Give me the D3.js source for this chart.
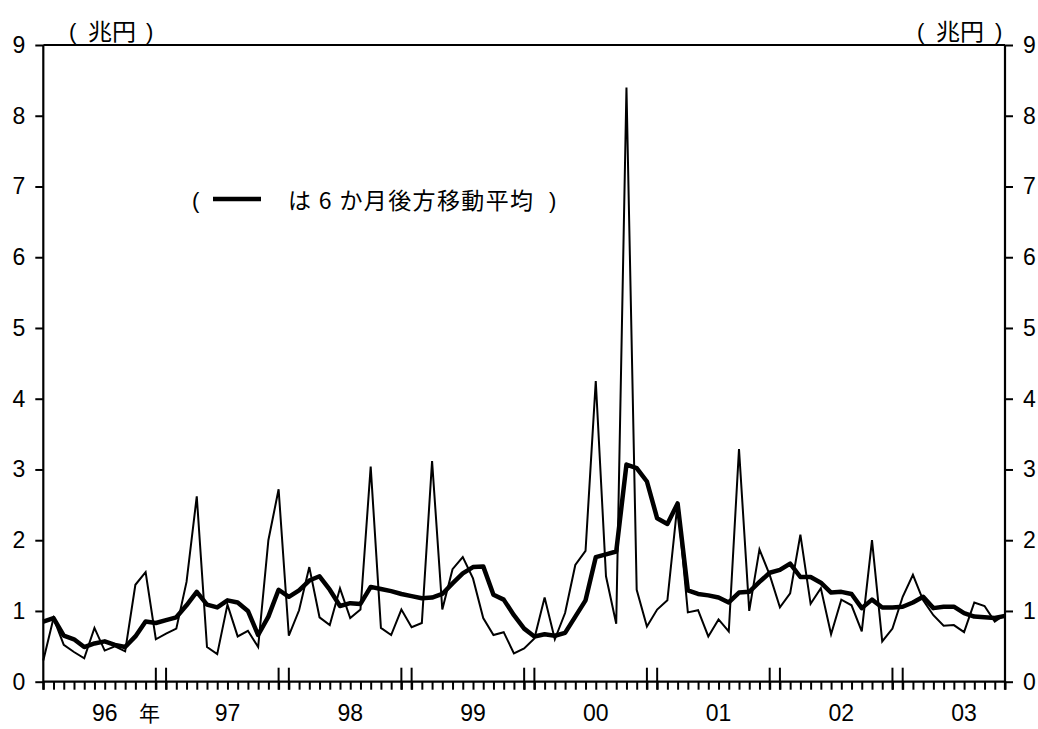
<!DOCTYPE html>
<html><head><meta charset="utf-8">
<script src="https://cdn.jsdelivr.net/npm/d3@7"></script>
<style>
html,body{margin:0;padding:0;background:#fff;}
</style></head>
<body><svg id="c" width="1038" height="729"></svg>
<script>
// monthly values, Jan 1996 – Nov 2003 (兆円)
const monthly = [0.30,0.90,0.52,0.42,0.33,0.76,0.44,0.50,0.43,1.37,1.55,0.60,
0.68,0.75,1.41,2.62,0.49,0.39,1.09,0.64,0.72,0.49,2.00,2.72,
0.65,1.01,1.62,0.91,0.80,1.32,0.90,1.02,3.04,0.76,0.66,1.02,
0.77,0.83,3.12,1.02,1.59,1.76,1.46,0.90,0.66,0.70,0.40,0.47,
0.61,1.19,0.60,0.97,1.65,1.85,4.25,1.49,0.82,8.40,1.30,0.78,
1.02,1.15,2.53,0.98,1.01,0.64,0.88,0.71,3.29,1.00,1.87,1.51,
1.05,1.25,2.08,1.10,1.32,0.67,1.16,1.08,0.71,2.00,0.57,0.75,
1.20,1.51,1.15,0.94,0.79,0.80,0.70,1.12,1.07,0.85,0.95];
// 6-month backward moving average
const ma6 = [0.85,0.90,0.65,0.60,0.49,0.54,0.57,0.52,0.49,0.64,0.85,0.83,
0.87,0.91,1.08,1.27,1.09,1.05,1.15,1.12,1.00,0.66,0.92,1.30,
1.20,1.29,1.43,1.49,1.30,1.07,1.11,1.10,1.34,1.31,1.28,1.24,
1.21,1.18,1.19,1.24,1.39,1.53,1.62,1.63,1.23,1.16,0.94,0.75,
0.64,0.67,0.65,0.69,0.92,1.15,1.76,1.80,1.84,3.07,3.02,2.83,
2.31,2.23,2.52,1.29,1.24,1.22,1.19,1.12,1.26,1.27,1.41,1.54,
1.58,1.67,1.48,1.48,1.40,1.26,1.27,1.24,1.04,1.16,1.05,1.05,
1.06,1.12,1.20,1.04,1.06,1.06,0.97,0.92,0.91,0.90,0.93];
const yearLabels = ["96","97","98","99","00","01","02","03"];
const yTicks = [0,1,2,3,4,5,6,7,8,9];
const unitLabel = "兆円";
const legendText = "は 6 か月後方移動平均";

const LAT = '"Liberation Sans", Arial, sans-serif';
const CJK = '"Noto Sans CJK JP", "Noto Sans CJK SC", sans-serif';

const svg = d3.select("#c");
const L = 43.3, R = 1005, T = 45, B = 681.7;
const n = monthly.length;
const x = d3.scaleLinear().domain([0, n-1]).range([L, R]);
const y = d3.scaleLinear().domain([0, 9]).range([B, T]);
const idx = d3.range(n);

// month ticks (below axis)
const xAxis = d3.axisBottom(x).tickValues(idx).tickFormat("").tickSize(8).tickSizeOuter(0);
svg.append("g").attr("transform",`translate(0,${B})`).call(xAxis)
  .call(g=>g.select(".domain").remove())
  .call(g=>g.selectAll("line").attr("stroke","#000").attr("stroke-width",2));

// year boundary tall ticks
const yearTicks = [];
for (let k=0; k<yearLabels.length-1; k++){ yearTicks.push(11+12*k, 12+12*k); }
svg.append("g").selectAll("line").data(yearTicks).join("line")
  .attr("x1",d=>x(d)).attr("x2",d=>x(d)).attr("y1",B-14).attr("y2",B+8)
  .attr("stroke","#000").attr("stroke-width",2);

// y axes
const yl = d3.axisLeft(y).tickValues(yTicks).tickSize(8).tickPadding(10).tickSizeOuter(0);
svg.append("g").attr("transform",`translate(${L},0)`).call(yl)
  .call(g=>g.select(".domain").remove())
  .call(g=>g.selectAll("line").attr("stroke","#000").attr("stroke-width",2))
  .call(g=>g.selectAll("text").style("font-size","23px").style("font-family",LAT).attr("fill","#000"));
const yr = d3.axisRight(y).tickValues(yTicks).tickSize(8).tickPadding(10).tickSizeOuter(0);
svg.append("g").attr("transform",`translate(${R},0)`).call(yr)
  .call(g=>g.select(".domain").remove())
  .call(g=>g.selectAll("line").attr("stroke","#000").attr("stroke-width",2))
  .call(g=>g.selectAll("text").style("font-size","23px").style("font-family",LAT).attr("fill","#000"));

// frame
svg.append("line").attr("x1",L).attr("x2",L).attr("y1",T).attr("y2",B+8).attr("stroke","#000").attr("stroke-width",2.2);
svg.append("line").attr("x1",R).attr("x2",R).attr("y1",T).attr("y2",B+8).attr("stroke","#000").attr("stroke-width",2.2);
svg.append("line").attr("x1",L).attr("x2",R).attr("y1",T).attr("y2",T).attr("stroke","#000").attr("stroke-width",2);
svg.append("line").attr("x1",L).attr("x2",R).attr("y1",B).attr("y2",B).attr("stroke","#000").attr("stroke-width",2.2);

function txt(xp, yp, s, size, fam, anchor){
  return svg.append("text").attr("x",xp).attr("y",yp).attr("text-anchor",anchor||"start")
    .style("font-size",size+"px").style("font-family",fam).attr("fill","#000").text(s);
}

// year labels
svg.append("g").selectAll("text").data(yearLabels).join("text")
  .attr("x",(d,k)=>x(6+12*k)).attr("y",721).attr("text-anchor","middle")
  .style("font-size","23px").style("font-family",LAT).text(d=>d);
txt(149.5, 721, "年", 21, CJK, "middle");

// unit labels
txt(69, 39, "(", 22, LAT);
txt(88, 40, unitLabel, 23, CJK).attr("textLength",48).attr("lengthAdjust","spacingAndGlyphs");
txt(146, 39, ")", 22, LAT);
txt(917, 39, "(", 22, LAT);
txt(936, 40, unitLabel, 23, CJK).attr("textLength",48).attr("lengthAdjust","spacingAndGlyphs");
txt(995, 39, ")", 22, LAT);

// lines
const line = d3.line().x((d,i)=>x(i)).y(d=>y(d));
svg.append("path").datum(monthly).attr("d",line).attr("fill","none")
  .attr("stroke","#000").attr("stroke-width",2).attr("stroke-linejoin","miter");
svg.append("path").datum(ma6).attr("d",line).attr("fill","none")
  .attr("stroke","#000").attr("stroke-width",4.5).attr("stroke-linejoin","round");

// legend
txt(192, 208, "(", 22, LAT);
svg.append("line").attr("x1",213).attr("x2",261).attr("y1",199).attr("y2",199)
  .attr("stroke","#000").attr("stroke-width",4.5);
txt(288, 209, legendText, 23, CJK).attr("textLength",245).attr("lengthAdjust","spacing");
txt(549, 208, ")", 22, LAT);
</script></body></html>
